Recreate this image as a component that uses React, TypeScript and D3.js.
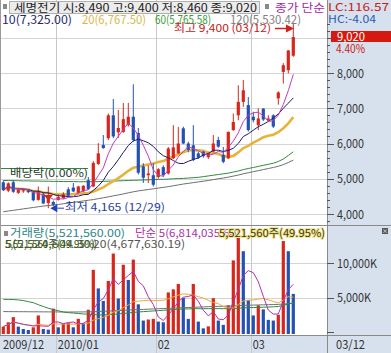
import React from 'react';
import * as d3 from 'd3';

// daily candles, 2009/12/15 ~ 2010/03/12
const dates = [
  '12/15', '12/16', '12/17', '12/18', '12/21', '12/22', '12/23', '12/24', '12/28', '12/29', '12/30',
  '01/04', '01/05', '01/06', '01/07', '01/08', '01/11', '01/12', '01/13', '01/14', '01/15',
  '01/18', '01/19', '01/20', '01/21', '01/22', '01/25', '01/26', '01/27', '01/28', '01/29',
  '02/01', '02/02', '02/03', '02/04', '02/05', '02/08', '02/09', '02/10', '02/11', '02/12',
  '02/16', '02/17', '02/18', '02/19', '02/22', '02/23', '02/24', '02/25', '02/26',
  '03/02', '03/03', '03/04', '03/05', '03/08', '03/09', '03/10', '03/11', '03/12'
];
const opens = [
  4900, 4660, 4900, 4600, 4650, 4670, 4620, 4400, 4560, 4310, 4340,
  4400, 4450, 4700, 4750, 4600, 4640, 4960, 4780, 5420, 5960,
  6150, 6800, 6320, 6330, 6520, 6760, 6300, 5350, 5100, 5100,
  5050, 5330, 5150, 5580, 5720, 6430, 6000, 5950, 5720, 5770,
  5610, 5770, 6100, 5680, 5580, 6380, 6800, 7180, 7090,
  6760, 6520, 6990, 6670, 6800, 7280, 8030, 8080, 8490
];
const highs = [
  4950, 4900, 4960, 4720, 4720, 4700, 4650, 4780, 4600, 4780, 4380,
  4560, 4620, 4760, 4880, 4800, 4820, 5050, 5500, 6010, 6240,
  6850, 7260, 6950, 7150, 7150, 7680, 6440, 5440, 5380, 5440,
  5300, 5380, 5900, 6520, 6470, 6480, 6050, 6520, 5760, 5790,
  5740, 6240, 6190, 5900, 6340, 6850, 7650, 7800, 7320,
  6900, 7000, 7000, 6800, 6830, 7480, 8280, 8650, 9400
];
const lows = [
  4650, 4620, 4600, 4570, 4600, 4590, 4360, 4380, 4280, 4165, 4220,
  4380, 4430, 4500, 4620, 4580, 4620, 4680, 4760, 5390, 5850,
  6100, 6150, 6160, 6300, 6480, 6050, 5120, 4880, 4880, 4780,
  5000, 5050, 5120, 5560, 5700, 5980, 5750, 5500, 5560, 5600,
  5560, 5750, 5880, 5440, 5560, 6360, 6660, 7040, 6340,
  6600, 6380, 6640, 6640, 6440, 7100, 7700, 7990, 8460
];
const closes = [
  4680, 4870, 4630, 4680, 4670, 4620, 4390, 4620, 4300, 4520, 4260,
  4480, 4560, 4520, 4640, 4780, 4800, 4700, 5450, 5720, 5870,
  6800, 6200, 6440, 6690, 6760, 6100, 5170, 5030, 5150, 4830,
  5270, 5100, 5860, 5890, 6000, 6000, 5820, 5540, 5600, 5640,
  5720, 6000, 5910, 5480, 6330, 6610, 7180, 7510, 6380,
  6660, 6710, 6680, 6710, 6480, 7450, 8220, 8640, 9020
];
// volume in thousand shares
const volumes = [
  780, 1410, 2150, 780, 440, 290, 680, 2400, 440, 340, 3380,
  680, 1180, 1320, 680, 1910, 1260, 3230, 9010, 6320, 4500,
  7400, 11370, 4850, 9750, 7540, 10490, 4010, 1660, 1810, 1910,
  1510, 1410, 5740, 6180, 6960, 4940, 1900, 6960, 1510, 530,
  820, 4900, 1660, 1030, 3870, 10380, 13910, 11710, 4600,
  2400, 3870, 3280, 1760, 1660, 2500, 13180, 11710, 5522
];
// long moving averages
const ma60 = [
  4950, 4950, 4945, 4945, 4940, 4940, 4935, 4935, 4930, 4930, 4925,
  4925, 4920, 4920, 4920, 4915, 4915, 4915, 4915, 4920, 4925,
  4930, 4935, 4940, 4945, 4950, 4955, 4960, 4965, 4970, 4975,
  4980, 4985, 4990, 5000, 5005, 5010, 5020, 5030, 5040, 5060,
  5080, 5100, 5120, 5140, 5160, 5190, 5220, 5260, 5290,
  5320, 5350, 5380, 5410, 5440, 5490, 5560, 5660, 5765
];
const ma120 = [
  4065, 4085, 4105, 4125, 4145, 4165, 4185, 4205, 4225, 4240, 4255,
  4270, 4290, 4310, 4330, 4350, 4370, 4390, 4410, 4435, 4460,
  4485, 4515, 4540, 4570, 4600, 4630, 4655, 4675, 4695, 4715,
  4735, 4755, 4775, 4800, 4825, 4850, 4870, 4890, 4910, 4930,
  4950, 4975, 5000, 5020, 5045, 5075, 5105, 5140, 5170,
  5200, 5230, 5260, 5290, 5320, 5355, 5400, 5460, 5530
];
const volMa60 = [
  4740, 4720, 4700, 4650, 4550, 4400, 4250, 3950, 3700, 3450, 3250,
  3080, 2900, 2800, 2750, 2680, 2620, 2580, 2530, 2480, 2470,
  2500, 2560, 2620, 2680, 2760, 2840, 2900, 2950, 3000, 3050,
  3100, 3150, 3200, 3250, 3300, 3330, 3350, 3370, 3380, 3380,
  3380, 3390, 3390, 3380, 3380, 3400, 3450, 3500, 3530,
  3550, 3570, 3590, 3620, 3650, 3700, 3850, 4050, 4250
];
const volMa120 = [
  2960, 2955, 2950, 2945, 2940, 2935, 2930, 2925, 2920, 2915, 2910,
  2905, 2900, 2900, 2900, 2905, 2910, 2920, 2940, 2970, 3000,
  3030, 3070, 3100, 3140, 3180, 3220, 3250, 3280, 3310, 3340,
  3370, 3400, 3430, 3460, 3490, 3520, 3550, 3580, 3610, 3640,
  3670, 3690, 3710, 3730, 3750, 3780, 3810, 3850, 3880,
  3900, 3920, 3940, 3960, 3980, 4000, 4050, 4100, 4160
];
const priceTicks = [4000, 5000, 6000, 7000, 8000, 9000];
const volTicks = [5000, 10000];
const monthLabels = ['2009/12', '2010/01', '02', '03'];
const monthStarts = [0, 11, 31, 50];

const RED = '#d9261c';
const BLUE = '#2452b2';
const PANEL = '#d7e1ed';
const FONT = '"Noto Sans CJK KR", "Noto Sans", sans-serif';

// simple moving average over what is available
const sma = (arr, n) => arr.map((_, i) => d3.mean(arr.slice(Math.max(0, i - n + 1), i + 1)));

const App = () => {
  const x = d3.scaleLinear().domain([0, dates.length - 1]).range([3.3, 293.3]);
  const yP = d3.scaleLinear().domain([4000, 8000]).range([214, 73]);
  const yV = d3.scaleLinear().domain([0, 10000]).range([332, 263]);

  const idx = d3.range(dates.length);
  const line = (vals, ys) => d3.line().x((d) => x(d)).y((d) => ys(vals[d]))(idx);

  const ma5 = sma(closes, 5);
  const ma10 = sma(closes, 10);
  const ma20 = sma(closes, 20);
  const vma5 = sma(volumes, 5);
  const vma20 = sma(volumes, 20);

  const minorTicks = d3.range(3800, 9600, 200);

  return (
    <div style={{ position: 'absolute', left: 0, top: 0 }}>
      <style>{`body{margin:0}`}</style>
      <svg width={391} height={353} style={{ display: 'block', fontFamily: FONT }}>
        <rect x={0} y={0} width={391} height={353} fill="#fff" />
        {/* right axis panel and bottom band */}
        <rect x={327} y={0} width={64} height={353} fill={PANEL} />
        <rect x={0} y={335} width={391} height={18} fill={PANEL} />

        {/* grid */}
        {priceTicks.map((t) => (
          <line key={t} x1={0} x2={327} y1={Math.round(yP(t)) + 0.5} y2={Math.round(yP(t)) + 0.5} stroke="#d4d4d4" />
        ))}
        {volTicks.map((t) => (
          <line key={t} x1={0} x2={327} y1={Math.round(yV(t)) + 0.5} y2={Math.round(yV(t)) + 0.5} stroke="#d4d4d4" />
        ))}
        {monthStarts.slice(1).map((m) => (
          <line key={m} x1={Math.round(x(m) - 2) + 0.5} x2={Math.round(x(m) - 2) + 0.5} y1={0} y2={353} stroke="#c8c8c8" />
        ))}

        {/* long moving averages */}
        <path d={line(ma120, yP)} fill="none" stroke="#6e6e6e" strokeWidth={1} />
        <path d={line(ma60, yP)} fill="none" stroke="#2f8a3c" strokeWidth={1} />
        <path d={line(ma20, yP)} fill="none" stroke="#e6b43a" strokeWidth={2.6} />

        {/* candles */}
        {idx.map((i) => {
          const up = closes[i] >= opens[i];
          const c = up ? RED : BLUE;
          const top = yP(Math.max(opens[i], closes[i]));
          const bot = yP(Math.min(opens[i], closes[i]));
          return (
            <g key={i}>
              <line x1={x(i)} x2={x(i)} y1={yP(highs[i])} y2={yP(lows[i])} stroke={c} strokeWidth={1} />
              <rect x={x(i) - 1.6} y={top} width={3.2} height={Math.max(1, bot - top)} fill={c} />
            </g>
          );
        })}

        <path d={line(ma10, yP)} fill="none" stroke="#1c1c6a" strokeWidth={1} />
        <path d={line(ma5, yP)} fill="none" stroke="#c03cc0" strokeWidth={1} />

        {/* dividend / low markers */}
        <line x1={1} x2={88} y1={168.5} y2={168.5} stroke="#2f8a3c" />
        <text x={10} y={177} fontSize={11} fill="#2a3a2a" textLength={78} lengthAdjust="spacingAndGlyphs">배당락(0.00%)</text>
        <polygon points={`${x(9) - 4.5},195 ${x(9) + 4.5},195 ${x(9)},200.5`} fill={RED} />
        <polygon points={`${x(9) + 2},${yP(lows[9])} ${x(9) + 9},${yP(lows[9]) - 4} ${x(9) + 9},${yP(lows[9]) + 4}`} fill="#1f3fc4" />
        <line x1={x(9) + 9} x2={64} y1={yP(lows[9])} y2={yP(lows[9])} stroke="#1f3fc4" />
        <text x={65} y={211} fontSize={11} fill="#1f3f9c" textLength={100} lengthAdjust="spacingAndGlyphs">최저 4,165 (12/29)</text>

        {/* high marker */}
        <text x={174} y={32} fontSize={11} fill="#c8201a" textLength={97} lengthAdjust="spacingAndGlyphs">최고 9,400 (03/12)</text>
        <line x1={275} x2={289} y1={28.5} y2={28.5} stroke="#d0201a" strokeWidth={1.5} />
        <polygon points="286,24.5 294,28.5 286,32.5" fill="#d0201a" />

        {/* volume bars */}
        {idx.map((i) => {
          const up = i === 0 || volumes[i] >= volumes[i - 1];
          return (
            <rect key={i} x={x(i) - 1.6} y={yV(volumes[i])} width={3.2} height={334 - yV(volumes[i])} fill={up ? RED : BLUE} />
          );
        })}
        <path d={line(volMa120, yV)} fill="none" stroke="#707070" strokeWidth={1} />
        <path d={line(volMa60, yV)} fill="none" stroke="#2f8a3c" strokeWidth={1} />
        <path d={line(vma20, yV)} fill="none" stroke="#f0a83a" strokeWidth={1} />
        <path d={line(vma5, yV)} fill="none" stroke="#b030b0" strokeWidth={1} />

        {/* panel borders */}
        <line x1={0} x2={391} y1={225.5} y2={225.5} stroke="#8a8a8a" />
        <line x1={0} x2={391} y1={335.5} y2={335.5} stroke="#8a8a8a" />
        <line x1={327.5} x2={327.5} y1={0} y2={353} stroke="#8a8a8a" />
        <line x1={0.5} x2={0.5} y1={0} y2={335} stroke="#9a9a9a" />

        {/* price axis */}
        {minorTicks.filter((t) => yP(t) > 2 && yP(t) < 224).map((t) => (
          <line key={t} x1={327} x2={t % 1000 === 0 ? 334 : 330} y1={Math.round(yP(t)) + 0.5} y2={Math.round(yP(t)) + 0.5} stroke="#555" />
        ))}
        {priceTicks.filter((t) => t < 9000).map((t) => (
          <text key={t} x={337} y={yP(t) + 4.5} fontSize={12} fill="#333" textLength={27} lengthAdjust="spacingAndGlyphs">{d3.format(',')(t)}</text>
        ))}
        {/* volume axis */}
        {[0, 5000, 10000].map((t) => (
          <line key={t} x1={327} x2={334} y1={Math.round(yV(t)) + 0.5} y2={Math.round(yV(t)) + 0.5} stroke="#555" />
        ))}
        {volTicks.map((t) => (
          <text key={t} x={337} y={yV(t) + 4.5} fontSize={12} fill="#333" textLength={t >= 10000 ? 40 : 34} lengthAdjust="spacingAndGlyphs">{d3.format(',')(t)}K</text>
        ))}
        <rect x={382} y={228} width={6} height={6} fill="#555" />
        <text x={385} y={233} fontSize={6} fill="#fff" textAnchor="middle">×</text>

        {/* current price tags */}
        <text x={328} y={11} fontSize={11} fill="#c8201a" textLength={61} lengthAdjust="spacingAndGlyphs">LC:116.57</text>
        <text x={328} y={23} fontSize={11} fill="#2a5db0" textLength={48} lengthAdjust="spacingAndGlyphs">HC:-4.04</text>
        <rect x={331} y={31} width={60} height={11} fill="#d41a10" />
        <text x={337} y={41} fontSize={11.5} fill="#fff" textLength={28} lengthAdjust="spacingAndGlyphs">9,020</text>
        <text x={336} y={53} fontSize={11.5} fill="#c8201a" textLength={29} lengthAdjust="spacingAndGlyphs">4.40%</text>

        {/* header */}
        <rect x={3} y={4} width={4} height={5} fill="#888" />
        <rect x={9.5} y={1.5} width={250} height={12} fill="#ececec" stroke="#b0b0b0" />
        <text x={14} y={12} fontSize={11.5} fill="#222" textLength={243} lengthAdjust="spacingAndGlyphs">세명전기 시:8,490 고:9,400 저:8,460 종:9,020</text>
        <rect x={265} y={4} width={4} height={5} fill="#888" />
        <text x={275} y={12} fontSize={11.5} fill="#a82aa8" textLength={50} lengthAdjust="spacingAndGlyphs">종가 단순</text>
        <text x={2} y={24} fontSize={11.5} fill="#1c2a6a" textLength={70} lengthAdjust="spacingAndGlyphs">10(7,325.00)</text>
        <text x={82} y={24} fontSize={11.5} fill="#d8b84c" textLength={64} lengthAdjust="spacingAndGlyphs">20(6,767.50)</text>
        <text x={155} y={24} fontSize={11.5} fill="#3a9a3a" textLength={56} lengthAdjust="spacingAndGlyphs">60(5,765.58)</text>
        <text x={230} y={24} fontSize={11.5} fill="#808080" textLength={71} lengthAdjust="spacingAndGlyphs">120(5,530.42)</text>

        {/* volume legend */}
        <rect x={4} y={231} width={4} height={5} fill="#888" />
        <text x={10} y={237} fontSize={11} fill="#2e8585" textLength={115} lengthAdjust="spacingAndGlyphs">거래량(5,521,560.00)</text>
        <text x={135} y={237} fontSize={11} fill="#a830a8" textLength={105} lengthAdjust="spacingAndGlyphs">단순 5(6,814,035.60)</text>
        <text x={219} y={237} fontSize={11} fill="#3c3c1e" stroke="#f2e48a" strokeWidth={2} paintOrder="stroke" textLength={106} lengthAdjust="spacingAndGlyphs">5,521,560주(49.95%)</text>
        <text x={5} y={248} fontSize={11} fill="#2d6b2d" textLength={90} lengthAdjust="spacingAndGlyphs">5(5,524,604.30)</text>
        <text x={5} y={248} fontSize={11} fill="#4a4a1a" textLength={92} lengthAdjust="spacingAndGlyphs">5,521,560주(49.95%)</text>
        <text x={93} y={248} fontSize={11} fill="#555" textLength={92} lengthAdjust="spacingAndGlyphs">20(4,677,630.19)</text>

        {/* date axis */}
        {monthStarts.map((m, k) => (
          <text key={m} x={k === 0 ? 3 : x(m) - 0.5} y={349} fontSize={12} fill="#333" textLength={monthLabels[k].length > 2 ? 41 : 12} lengthAdjust="spacingAndGlyphs">{monthLabels[k]}</text>
        ))}
        <text x={336} y={349} fontSize={12} fill="#333" textLength={29} lengthAdjust="spacingAndGlyphs">{dates[dates.length - 1]}</text>
      </svg>
    </div>
  );
};

export default App;
